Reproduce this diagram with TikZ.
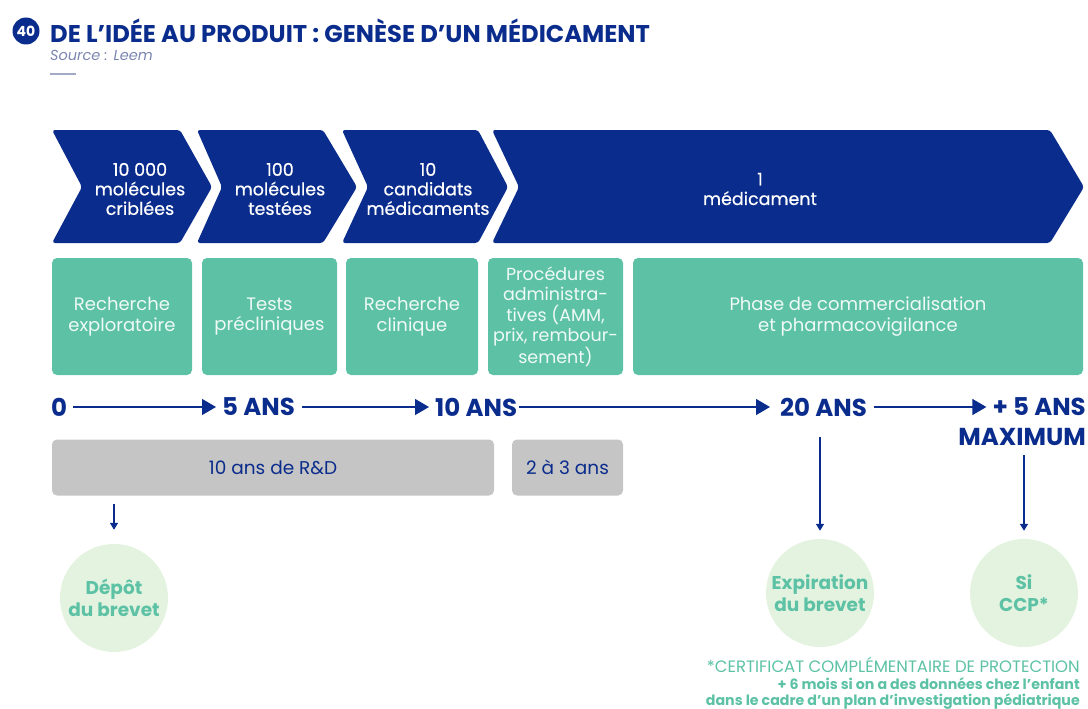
\documentclass[tikz,border=0pt]{standalone}
\usepackage{fontspec}
\setmainfont{Poppins}
\usetikzlibrary{arrows.meta}
\definecolor{navy}{HTML}{0A2C8C}
\definecolor{mint}{HTML}{5DC2A5}
\definecolor{pale}{HTML}{E3F3DF}
\definecolor{greybox}{HTML}{C5C5C5}
\definecolor{srcgrey}{HTML}{7A86B0}
\tikzset{
  chev/.style={fill=navy, rounded corners=3pt},
  chevtxt/.style={text=white, font=\fontsize{17.5}{19.5}\selectfont\addfontfeature{FakeBold=0.6}, align=center, inner sep=0pt},
  phase/.style={fill=mint, rounded corners=5pt, draw=none, text=white!90!mint, font=\fontsize{18}{20.5}\selectfont, align=center, inner sep=0pt},
  gbox/.style={fill=greybox, rounded corners=5pt, text=navy, font=\fontsize{18.5}{19}\selectfont, inner sep=0pt},
  tl/.style={text=navy, font=\bfseries\fontsize{24.5}{30}\selectfont, inner sep=0pt},
  tlarr/.style={draw=navy, line width=1.4pt, -{Triangle[length=14pt,width=16pt]}},
  darr/.style={draw=navy, line width=1.4pt, -{Triangle[length=7pt,width=8pt]}},
  bubble/.style={circle, fill=pale, minimum size=108pt, inner sep=0pt, text=mint, font=\bfseries\fontsize{18.5}{22}\selectfont, align=center},
}
\begin{document}
\begin{tikzpicture}[x=1pt,y=-1pt]
\useasboundingbox (0,0) rectangle (1088,709);
% title
\node[circle, fill=navy, minimum size=27pt, inner sep=0pt, text=white, font=\bfseries\fontsize{14}{14}\selectfont] (num) at (26,31) {40};
\node[anchor=west, text=navy, font=\bfseries\fontsize{24.2}{26}\selectfont, inner sep=0pt] (title) at (50,31) {DE L’IDÉE AU PRODUIT : GENÈSE D’UN MÉDICAMENT};
\node[anchor=west, text=srcgrey, font=\itshape\fontsize{14.5}{16}\selectfont, inner sep=0pt] (src) at (50,55) {Source : Leem};
\draw[srcgrey!70, line width=1.5pt] (50,74) -- (76,74);
% chevrons
\fill[chev] (52,130) -- (180,130) -- (212,187) -- (180,243) -- (52,243) -- (82,187) -- cycle;
\fill[chev] (197,130) -- (323,130) -- (357,187) -- (323,243) -- (197,243) -- (222,187) -- cycle;
\fill[chev] (342,130) -- (478,130) -- (508,187) -- (478,243) -- (342,243) -- (368,187) -- cycle;
\fill[chev] (492,130) -- (1050,130) -- (1084,187) -- (1050,243) -- (492,243) -- (519,187) -- cycle;
\node[chevtxt] (c1) at (140,189) {10 000\\molécules\\criblées};
\node[chevtxt] (c2) at (280,189) {100\\molécules\\testées};
\node[chevtxt] (c3) at (428,189) {10\\candidats\\médicaments};
\node[chevtxt] (c4) at (760,189) {1\\médicament};
% phases
\node[phase, minimum width=140pt, minimum height=117pt] (p1) at (122,316.5) {Recherche\\exploratoire};
\node[phase, minimum width=135pt, minimum height=117pt] (p2) at (269.5,316.5) {Tests\\précliniques};
\node[phase, minimum width=132pt, minimum height=117pt] (p3) at (412,316.5) {Recherche\\clinique};
\node[phase, minimum width=135pt, minimum height=117pt, font=\fontsize{17.5}{20.5}\selectfont] (p4) at (555.5,316.5) {Procédures\\administra-\\tives (AMM,\\prix, rembour-\\sement)};
\node[phase, minimum width=450pt, minimum height=117pt] (p5) at (858,316.5) {Phase de commercialisation\\et pharmacovigilance};
% timeline
\node[tl, anchor=west] (t0) at (51,407) {0};
\node[tl, anchor=west] (t5) at (222,407) {5 ANS};
\node[tl, anchor=west] (t10) at (435,407) {10 ANS};
\node[tl, anchor=west] (t20) at (780,407) {20 ANS};
\node[tl, anchor=east] (t25) at (1086,407) {+ 5 ANS};
\node[tl, anchor=east] (tmax) at (1086,437) {MAXIMUM};
\draw[tlarr] (t0.east) ++(6,0) -- ([xshift=-6pt]t5.west);
\draw[tlarr] (t5.east) ++(7,0) -- ([xshift=-6pt]t10.west);
\draw[tlarr] (t10.east) ++(2,0) -- ([xshift=-10pt]t20.west);
\draw[tlarr] (t20.east) ++(7,0) -- ([xshift=-6pt]t25.west);
% grey boxes
\node[gbox, minimum width=442pt, minimum height=56pt] (rd) at (273,467.5) {10 ans de R\&D};
\node[gbox, minimum width=111pt, minimum height=56pt] (adm) at (567.5,467.5) {2 à 3 ans};
% bubbles
\node[bubble] (b1) at (114,598) {Dépôt\\du brevet};
\node[bubble] (b2) at (820,593) {Expiration\\du brevet};
\node[bubble] (b3) at (1024,593) {Si\\CCP*};
\coordinate (a0) at (114,504);
\coordinate (a20) at (820,437);
\coordinate (a25) at (1024,455);
\draw[darr] (a0) -- ([yshift=14pt]b1.north);
\draw[darr] (a20) -- ([yshift=8pt]b2.north);
\draw[darr] (a25) -- ([yshift=8pt]b3.north);
% footnote
\node[anchor=east, inner sep=0pt, text=mint, font=\fontsize{16.5}{18}\selectfont] (fn1) at (1080,665) {*CERTIFICAT COMPLÉMENTAIRE DE PROTECTION};
\node[anchor=east, inner sep=0pt, text=mint, font=\bfseries\fontsize{14.2}{18}\selectfont] (fn2) at (1080,684) {+ 6 mois si on a des données chez l’enfant};
\node[anchor=east, inner sep=0pt, text=mint, font=\bfseries\fontsize{14.2}{18}\selectfont] (fn3) at (1080,702) {dans le cadre d’un plan d’investigation pédiatrique};
\end{tikzpicture}
\end{document}
